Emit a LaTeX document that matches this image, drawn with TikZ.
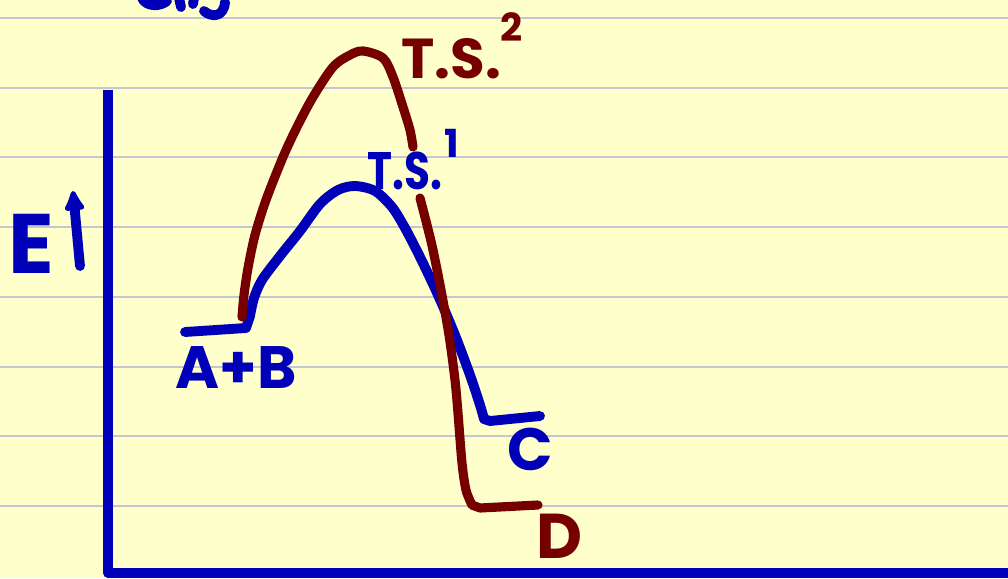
\documentclass[tikz,border=0pt]{standalone}
\usepackage{fontspec}
\setmainfont{Poppins}
\usepackage{tikz}
\usetikzlibrary{arrows.meta}
\definecolor{paper}{HTML}{FFFFCC}
\definecolor{rule}{HTML}{C4C6D2}
\definecolor{pen}{HTML}{0000B8}
\definecolor{ink}{HTML}{760000}

\tikzset{
  bluepen/.style={draw=pen, line width=2.8pt, line cap=round, line join=round},
  redpen/.style={draw=ink, line width=2.6pt, line cap=round, line join=round},
  hand/.style={font=\bfseries, inner sep=0pt}
}

\begin{document}
\begin{tikzpicture}[x=0.01cm, y=-0.01cm]
  \useasboundingbox (0, 0) rectangle (1008, 578);
  \fill[paper] (0, 0) rectangle (1008, 578);
  \foreach \y in {18, 88, 157, 227, 297, 367, 436, 506} {
    \draw[rule, line width=0.6pt] (0, \y) -- (1008, \y);
  }
  % axes
  \draw[bluepen, line cap=butt] (108, 90) -- (108, 573) -- (1010, 573);
  % cut-off writing at the top
  \draw[bluepen] (142, -2) .. controls (146, 7) and (160, 7) .. (167, 1);
  \draw[bluepen] (179, -2) -- (181, 7);
  \draw[bluepen] (194, -2) -- (193, 4);
  \draw[bluepen] (204, 11) .. controls (212, 18) and (224, 17) .. (225, 2);
  % pathway 1
  \draw[bluepen] (185, 332) -- (246, 328) -- plot[smooth, tension=0.5] coordinates {
    (250, 316) (254, 298) (262, 280) (280, 256) (300, 231) (320, 204) (338, 190)
    (355, 186) (375, 191) (392, 207) (405, 228) (420, 257) (438, 295) (455, 335)
    (470, 375) (480, 405) (484, 419)} -- (490, 421) -- (540, 416);
  % pathway 2
  \draw[redpen] plot[smooth, tension=0.5] coordinates {
    (242, 317) (244, 295) (248, 268) (255, 235) (266, 200) (283, 157)
    (297, 127) (313, 97) (333, 67) (350, 55) (363, 51) (383, 58) (393, 77)
    (403, 107) (410, 130) (413, 147)};
  \draw[redpen] plot[smooth, tension=0.5] coordinates {
    (420, 198) (427, 225) (433, 250) (441, 290) (449, 335) (455, 380) (458, 413)
    (462, 463) (466, 490) (472, 505)} -- (480, 508) -- (538, 505);
  % labels
  \node[hand, font=\bfseries\fontsize{24}{24}\selectfont, pen] (elabel) at (31, 244) {E};
  \coordinate (arrowfoot) at (80, 266);
  \coordinate (arrowtip) at (73, 191);
  \draw[bluepen, -{Latex[length=7pt, width=7pt, round]}] (arrowfoot) -- (arrowtip);
  \node[hand, font=\bfseries\fontsize{17}{17}\selectfont, pen] (ab) at (236, 368) {A+B};
  \node[hand, font=\bfseries\fontsize{15}{15}\selectfont, pen, anchor=west] (ts1) at (367, 171) {\scalebox{0.8}[1]{T.S.}};
  \node[hand, font=\bfseries\fontsize{11}{11}\selectfont, pen] (ts1n) at (452, 143) {1};
  \node[hand, font=\bfseries\fontsize{16}{16}\selectfont, ink, anchor=west] (ts2) at (401, 59) {T.S.};
  \node[hand, font=\bfseries\fontsize{11}{11}\selectfont, ink] (ts2n) at (512, 27) {2};
  \node[hand, font=\bfseries\fontsize{17}{17}\selectfont, pen] (cc) at (530, 449) {C};
  \node[hand, font=\bfseries\fontsize{18}{18}\selectfont, ink] (dd) at (560, 536) {D};
\end{tikzpicture}
\end{document}
